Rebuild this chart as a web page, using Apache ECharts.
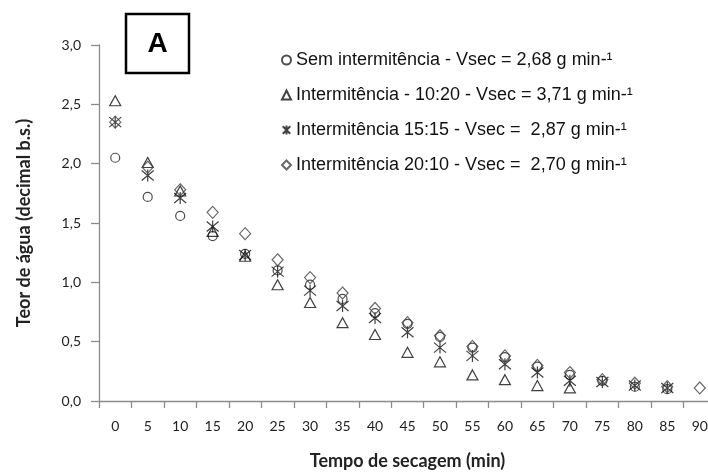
<!DOCTYPE html>
<html>
<head>
<meta charset="utf-8">
<script src="https://cdn.jsdelivr.net/npm/echarts@6/dist/echarts.min.js"></script>
<style>
  html, body { margin: 0; padding: 0; background: #fff; }
  #chart { width: 708px; height: 472px; }
</style>
</head>
<body>
<div id="chart"></div>
<script>
// Drying time (min)
const times = ['0','5','10','15','20','25','30','35','40','45','50','55','60','65','70','75','80','85','90'];

// Moisture content (decimal d.b.) for each drying condition
const semIntermitencia = [2.05, 1.72, 1.56, 1.39, 1.24, 1.10, 0.98, 0.86, 0.74, 0.65, 0.54, 0.45, 0.37, 0.29, 0.22, 0.17, 0.12, 0.10, null];
const intermit1020     = [2.53, 2.01, 1.77, 1.43, 1.22, 0.98, 0.83, 0.66, 0.56, 0.41, 0.33, 0.22, 0.18, 0.13, 0.11, null, null, null, null];
const intermit1515     = [2.35, 1.90, 1.71, 1.47, 1.23, 1.09, 0.93, 0.80, 0.70, 0.58, 0.45, 0.38, 0.31, 0.24, 0.17, 0.16, 0.13, 0.11, null];
const intermit2010     = [2.35, 1.97, 1.78, 1.59, 1.41, 1.19, 1.04, 0.91, 0.78, 0.66, 0.55, 0.46, 0.38, 0.30, 0.24, 0.18, 0.15, 0.12, 0.11];

const seriesNames = [
  'Sem intermitência - Vsec = 2,68 g min-¹',
  'Intermitência - 10:20 - Vsec = 3,71 g min-¹',
  'Intermitência 15:15 - Vsec =  2,87 g min-¹',
  'Intermitência 20:10 - Vsec =  2,70 g min-¹'
];

const yTicks = { min: 0, max: 3, interval: 0.5 };

const STAR = 'path://M0,0L10,10M10,0L0,10M5,-1L5,11';
const axisGray = '#8c8c8c';
const labelFont = 'Lato, "Open Sans", sans-serif';

function scatter(name, data, symbol, size, color) {
  return {
    name: name,
    type: 'scatter',
    data: data,
    symbol: symbol,
    symbolSize: size,
    itemStyle: { color: 'transparent', borderColor: color, borderWidth: 1.2 },
    emphasis: { disabled: true },
    z: 3
  };
}

const chart = echarts.init(document.getElementById('chart'), null, { renderer: 'canvas' });
chart.setOption({
  animation: false,
  backgroundColor: '#fff',
  // the time axis runs slightly past the right edge, so keep the grid exactly where it is placed
  grid: { left: 99, top: 45, width: 617, height: 356, containLabel: false, outerBoundsMode: 'none' },
  legend: {
    orient: 'vertical',
    left: 281,
    top: 50,
    padding: 0,
    itemWidth: 9,
    itemHeight: 9,
    itemGap: 15,
    textStyle: { fontFamily: '"Liberation Sans", Arial, sans-serif', fontSize: 18, color: '#111', lineHeight: 20 },
    data: seriesNames
  },
  xAxis: {
    type: 'category',
    data: times,
    boundaryGap: true,
    name: 'Tempo de secagem (min)',
    nameLocation: 'middle',
    nameGap: 51,
    nameTextStyle: { fontFamily: labelFont, fontWeight: 'bold', fontSize: 18, color: '#222' },
    axisLine: { lineStyle: { color: axisGray, width: 1.3 } },
    axisTick: { show: true, length: 7, interval: 0, lineStyle: { color: axisGray, width: 1.3 } },
    axisLabel: { interval: 0, margin: 18, fontFamily: labelFont, fontSize: 14, color: '#222' },
    splitLine: { show: false }
  },
  yAxis: {
    type: 'value',
    min: yTicks.min,
    max: yTicks.max,
    interval: yTicks.interval,
    name: 'Teor de água (decimal b.s.)',
    nameLocation: 'middle',
    nameGap: 66,
    nameTextStyle: { fontFamily: labelFont, fontWeight: 'bold', fontSize: 18, color: '#222' },
    axisLine: { show: true, lineStyle: { color: axisGray, width: 1.3 } },
    axisTick: { show: true, length: 8, lineStyle: { color: axisGray, width: 1.3 } },
    axisLabel: {
      margin: 18, fontFamily: labelFont, fontSize: 14, color: '#222',
      formatter: v => v.toFixed(1).replace('.', ',')
    },
    splitLine: { show: false }
  },
  series: [
    scatter(seriesNames[0], semIntermitencia, 'circle', 9, '#222'),
    scatter(seriesNames[1], intermit1020, 'triangle', [11, 10], '#111'),
    scatter(seriesNames[2], intermit1515, STAR, [12, 12], '#111'),
    scatter(seriesNames[3], intermit2010, 'diamond', [11, 12], '#444')
  ],
  graphic: [
    {
      type: 'rect',
      shape: { x: 126, y: 14, width: 63, height: 59 },
      style: { fill: '#fff', stroke: '#000', lineWidth: 2.5 },
      z: 10
    },
    {
      type: 'text',
      x: 157.5,
      y: 44,
      style: {
        text: 'A', fill: '#000', font: 'bold 28px "Liberation Sans", Arial, sans-serif',
        align: 'center', verticalAlign: 'middle'
      },
      z: 11
    }
  ]
});
</script>
</body>
</html>
